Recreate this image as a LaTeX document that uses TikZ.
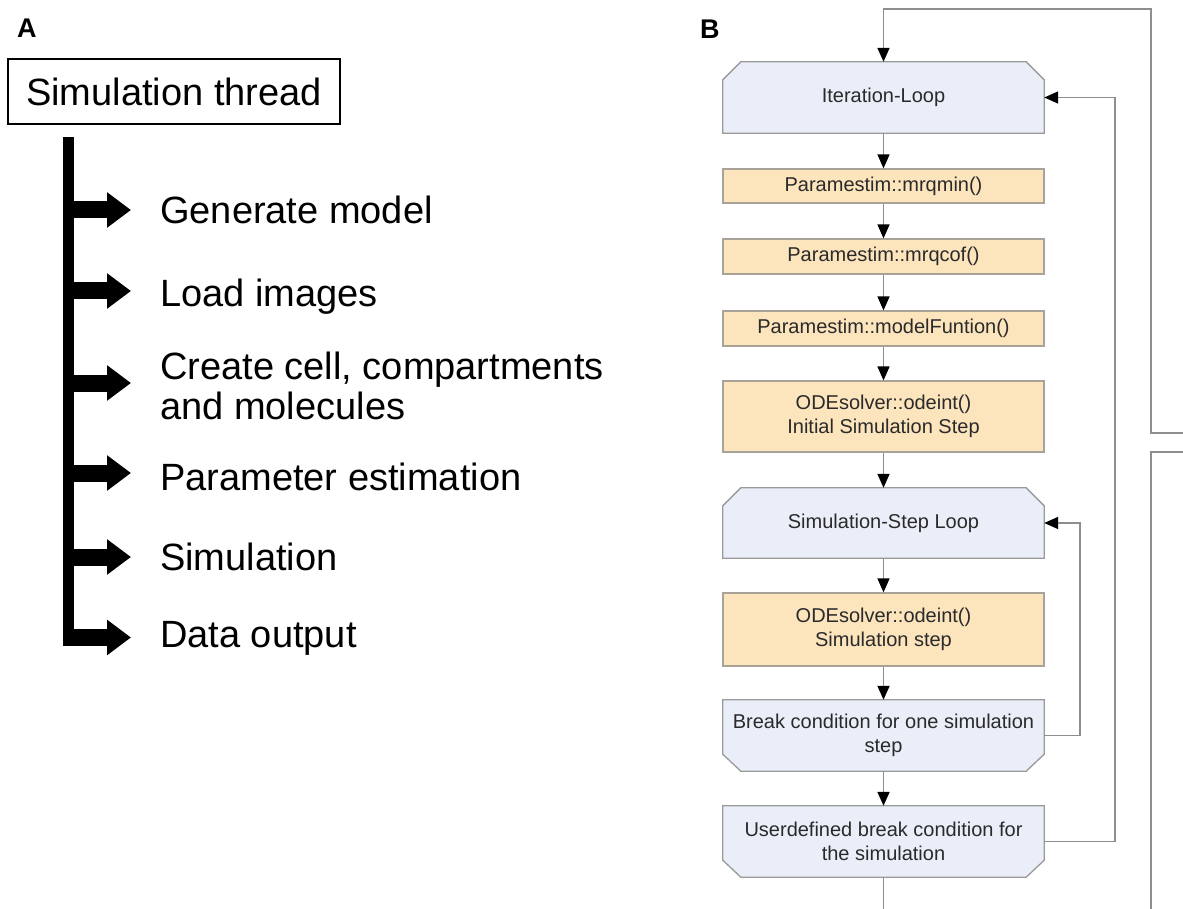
\documentclass[tikz,border=0pt]{standalone}
\usepackage{fontspec}
\setmainfont{Liberation Sans}
\usetikzlibrary{arrows.meta}
\definecolor{loopblue}{HTML}{E9EEF8}
\definecolor{calcorange}{HTML}{FCE4BD}
\definecolor{edgegray}{HTML}{9A9A9A}
\definecolor{calcedge}{HTML}{A8A398}
\definecolor{wiregray}{HTML}{8E8E8E}
\definecolor{inkgray}{HTML}{2A2A2A}
\pgfdeclarelayer{paper}
\pgfdeclarelayer{bg}
\pgfsetlayers{paper,bg,main}

% outline of a loop head (top corners cut) behind node #1
\newcommand\chamtop[1]{%
  \begin{pgfonlayer}{bg}
    \path[outline] ([xshift=18pt]#1.north west) -- ([xshift=-18pt]#1.north east)
      -- ([yshift=-18pt]#1.north east) -- (#1.south east) -- (#1.south west)
      -- ([yshift=-18pt]#1.north west) -- cycle;
  \end{pgfonlayer}}
% outline of a break condition (bottom corners cut) behind node #1
\newcommand\chambot[1]{%
  \begin{pgfonlayer}{bg}
    \path[outline] (#1.north west) -- (#1.north east)
      -- ([yshift=17pt]#1.south east) -- ([xshift=-18pt]#1.south east)
      -- ([xshift=18pt]#1.south west) -- ([yshift=17pt]#1.south west) -- cycle;
  \end{pgfonlayer}}

\begin{document}
\begin{tikzpicture}[x=1pt,y=-1pt,
  panel/.style={font=\fontsize{27}{27}\selectfont\bfseries, inner sep=0pt, anchor=base west},
  bigtext/.style={font=\fontsize{38}{40}\selectfont, inner sep=0pt, align=left},
  stage/.style={rectangle, minimum width=321pt, inner sep=0pt, text=inkgray,
    font=\fontsize{20}{24}\selectfont, align=center},
  calcbox/.style={stage, fill=calcorange, draw=calcedge, line width=1.2pt},
  outline/.style={fill=loopblue, draw=edgegray, line width=1.3pt, line join=miter},
  wire/.style={draw=wiregray, line width=1.6pt},
  flow/.style={wire, -{Triangle[length=14pt,width=12pt,color=black]}},
  fat/.style={line width=17pt, -{Triangle[length=24pt,width=34pt]}, shorten >=29pt}
]
\useasboundingbox (0,0) rectangle (1183,909);
\begin{pgfonlayer}{paper}
  \fill[white] (0,0) rectangle (1183,909);
\end{pgfonlayer}

% ---------------- panel A ----------------
\node[panel] (la) at (17,38) {A};
\node[draw, line width=1.5pt, minimum width=332pt, minimum height=65pt, inner sep=0pt,
      font=\fontsize{38}{40}\selectfont] (thread) at (174,91.5) {Simulation thread};
\node[fill, minimum width=11pt, minimum height=509pt, inner sep=0pt] (spine) at (68.5,391.5) {};

\node[bigtext, anchor=base west] (t1) at (160,224) {Generate model};
\node[bigtext, anchor=base west] (t2) at (160,306) {Load images};
\node[bigtext, anchor=west] (t3) at (160,386) {Create cell, compartments\\and molecules};
\node[bigtext, anchor=base west] (t4) at (160,490) {Parameter estimation};
\node[bigtext, anchor=base west] (t5) at (160,570) {Simulation};
\node[bigtext, anchor=base west] (t6) at (160,647) {Data output};

\coordinate (a1) at (68.5,210);
\coordinate (a2) at (68.5,291);
\coordinate (a3) at (68.5,383);
\coordinate (a4) at (68.5,473);
\coordinate (a5) at (68.5,557);
\coordinate (a6) at (68.5,637.5);
\foreach \i in {1,...,6}
  \draw[fat] (a\i) -- (a\i -| t\i.west);

% ---------------- panel B ----------------
\node[panel] (lb) at (700,39) {B};

\node[stage, minimum height=71pt] (it) at (883.5,97.5) {Iteration-Loop};
\node[calcbox, minimum height=34pt] (p1) at (883.5,186) {Paramestim::mrqmin()};
\node[calcbox, minimum height=35pt] (p2) at (883.5,256.5) {Paramestim::mrqcof()};
\node[calcbox, minimum height=35pt] (p3) at (883.5,328.5) {Paramestim::modelFuntion()};
\node[calcbox, minimum height=71pt] (o1) at (883.5,416.5) {ODEsolver::odeint()\\Initial Simulation Step};
\node[stage, minimum height=70pt] (sl) at (883.5,523) {Simulation-Step Loop};
\node[calcbox, minimum height=73pt] (o2) at (883.5,629.5) {ODEsolver::odeint()\\Simulation step};
\node[stage, minimum height=71pt] (bc) at (883.5,735.5) {Break condition for one simulation\\step};
\node[stage, minimum height=71pt] (ub) at (883.5,841.5) {Userdefined break condition for\\the simulation};

\chamtop{it}
\chamtop{sl}
\chambot{bc}
\chambot{ub}

% main sequence
\draw[flow] (it) -- (p1);
\draw[flow] (p1) -- (p2);
\draw[flow] (p2) -- (p3);
\draw[flow] (p3) -- (o1);
\draw[flow] (o1) -- (sl);
\draw[flow] (sl) -- (o2);
\draw[flow] (o2) -- (bc);
\draw[flow] (bc) -- (ub);

% feedback loops
\draw[flow] (bc.east) -- ++(36,0) |- (sl.east);
\draw[flow] (ub.east) -- ++(71,0) |- (it.east);

% links leaving the frame
\coordinate (e1) at (1183,433);
\coordinate (k1) at (1151,9);
\draw[flow] (e1) -| (k1) -| (it.north);
\coordinate (e2) at (1183,452);
\coordinate (e3) at (1151,909);
\draw[wire] (e2) -| (e3);
\coordinate (e4) at (883.5,909);
\draw[wire] (ub) -- (e4);
\end{tikzpicture}
\end{document}
